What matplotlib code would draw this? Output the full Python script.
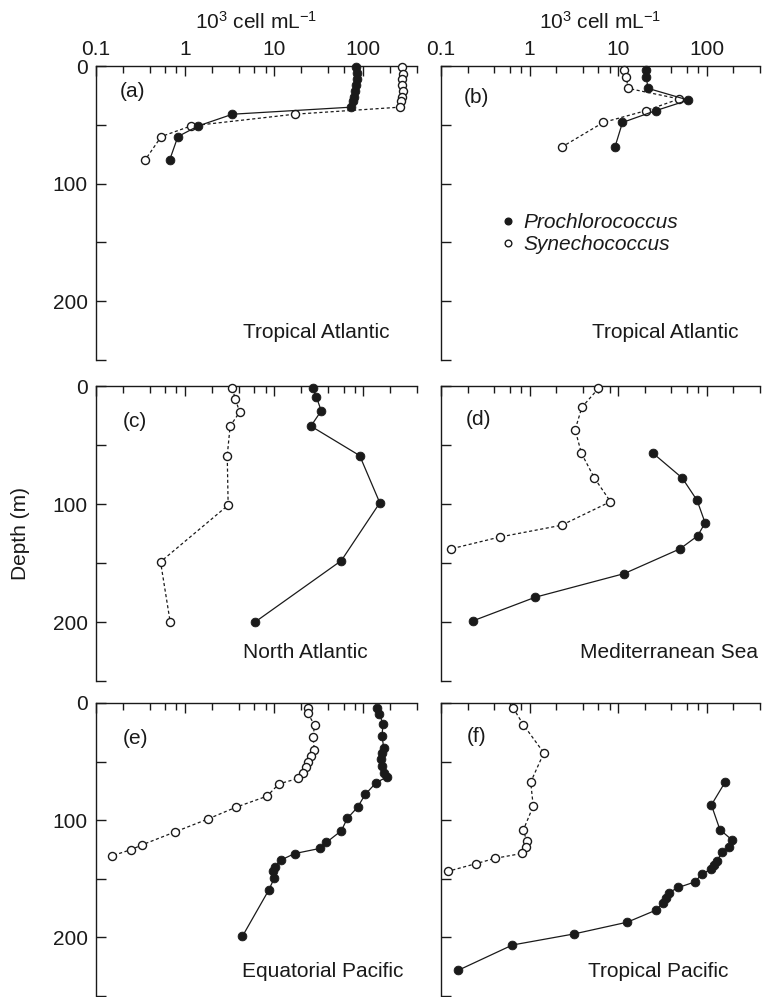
import matplotlib
matplotlib.use("Agg")
import matplotlib.pyplot as plt
from matplotlib.lines import Line2D
from matplotlib.ticker import FixedLocator, NullFormatter

plt.rcParams['font.family'] = ['Liberation Sans', 'DejaVu Sans']
plt.rcParams['mathtext.fontset'] = 'custom'
plt.rcParams['mathtext.rm'] = 'Liberation Sans'
plt.rcParams['mathtext.it'] = 'Liberation Sans:italic'

# panel (a) Tropical Atlantic
pro_a_depth = [1, 6, 11, 16, 21, 26, 30, 35, 41, 51, 60, 80]
pro_a = [82, 84, 84, 83, 81, 79, 77, 73, 3.4, 1.4, 0.83, 0.67]
syn_a_depth = [1, 7, 11, 16, 21, 26, 30, 35, 41, 51, 60, 80]
syn_a = [272, 276, 270, 275, 278, 272, 266, 258, 16.9, 1.16, 0.54, 0.355]

# panel (b) Tropical Atlantic
pro_b_depth = [3, 9, 19, 29, 38, 48, 69]
pro_b = [20.8, 20.8, 21.7, 62, 26.5, 11.2, 9.2]
syn_b_depth = [3, 9, 19, 28, 38, 48, 69]
syn_b = [11.7, 12.4, 12.9, 49, 20.5, 6.8, 2.3]

# panel (c) North Atlantic
pro_c_depth = [2, 9, 21, 34, 59, 99, 148, 200]
pro_c = [27, 29.6, 33.7, 25.8, 91, 153, 56.6, 6.1]
syn_c_depth = [2, 11, 22, 34, 59, 101, 149, 200]
syn_c = [3.4, 3.65, 4.1, 3.2, 2.97, 3.04, 0.53, 0.68]

# panel (d) Mediterranean Sea
pro_d_depth = [57, 78, 97, 116, 127, 138, 159, 179, 199]
pro_d = [24.8, 53, 78, 96, 79, 50, 11.7, 1.16, 0.23]
syn_d_depth = [2, 18, 37, 57, 78, 98, 118, 128, 138]
syn_d = [6.0, 3.9, 3.27, 3.85, 5.4, 8.2, 2.3, 0.46, 0.13]

# panel (e) Equatorial Pacific
pro_e_depth = [4, 9, 18, 28, 38, 43, 48, 54, 60, 63, 68, 78, 89, 98.5, 109,
               119, 124, 128.5, 134, 140, 143, 149.5, 159.5, 199]
pro_e = [142, 151, 166, 162, 169, 162, 159, 162, 169, 185, 139, 105, 86, 66,
         56.6, 38.4, 32.9, 16.9, 11.9, 10.1, 9.7, 10, 8.7, 4.4]
syn_e_depth = [4, 8.5, 19, 29, 40, 45, 50, 54.5, 59.6, 64.4, 69, 79.5, 89, 99,
               110, 121, 125, 130.5]
syn_e = [23.7, 23.7, 28.4, 27.2, 28.2, 25.8, 24.1, 22.7, 21.2, 18.5, 11.3,
         8.3, 3.7, 1.8, 0.77, 0.33, 0.25, 0.15]

# panel (f) Tropical Pacific
pro_f_depth = [67, 87, 108, 117, 123, 127, 135, 138.5, 142, 146, 152.6, 157.4,
               161.7, 166.8, 171, 176.6, 187, 197, 206.5, 228]
pro_f = [163, 113, 141, 194, 178, 150, 130, 120, 111, 88, 74, 48, 37.5, 34.4,
         32, 27, 12.7, 3.2, 0.64, 0.157]
syn_f_depth = [4, 18.5, 42.6, 67.5, 88, 108.4, 117.8, 122.6, 128.3, 132.5,
               137, 143.6]
syn_f = [0.65, 0.85, 1.45, 1.03, 1.1, 0.85, 0.93, 0.9, 0.83, 0.41, 0.25, 0.12]

panel_tags = ['(a)', '(b)', '(c)', '(d)', '(e)', '(f)']
regions = ['Tropical Atlantic', 'Tropical Atlantic', 'North Atlantic',
           'Mediterranean Sea', 'Equatorial Pacific', 'Tropical Pacific']
pro = [(pro_a, pro_a_depth), (pro_b, pro_b_depth), (pro_c, pro_c_depth),
       (pro_d, pro_d_depth), (pro_e, pro_e_depth), (pro_f, pro_f_depth)]
syn = [(syn_a, syn_a_depth), (syn_b, syn_b_depth), (syn_c, syn_c_depth),
       (syn_d, syn_d_depth), (syn_e, syn_e_depth), (syn_f, syn_f_depth)]

x_major = [0.1, 1, 10, 100]
x_major_labels = ['0.1', '1', '10', '100']
x_minor = [0.2, 0.4, 0.6, 0.8, 2, 4, 6, 8, 20, 40, 60, 80, 200, 400]
y_major = [0, 100, 200]
y_minor = [50, 150, 250]

ink = '#1a1a1a'
W, H = 763, 997
fig = plt.figure(figsize=(W / 100, H / 100), dpi=100)

# axes boxes in pixels (left, top, right, bottom)
cols = [(96, 417), (441, 760)]
rows = [(66, 360), (386, 681), (703, 996)]
tag_pos = [(0.075, 0.913), (0.07, 0.893), (0.084, 0.881),
           (0.078, 0.888), (0.084, 0.878), (0.082, 0.884)]
region_pos = [(0.458, 0.092), (0.473, 0.092), (0.458, 0.095),
              (0.436, 0.095), (0.455, 0.085), (0.461, 0.085)]

axes = []
for i in range(6):
    r, c = divmod(i, 2)
    x0, x1 = cols[c]
    y0, y1 = rows[r]
    ax = fig.add_axes([x0 / W, 1 - y1 / H, (x1 - x0) / W, (y1 - y0) / H])
    axes.append(ax)
    ax.set_xscale('log')
    ax.set_xlim(0.1, 400)
    ax.set_ylim(250, 0)
    for s in ['right', 'bottom']:
        ax.spines[s].set_visible(False)
    for s in ['left', 'top']:
        ax.spines[s].set_linewidth(1.0)
        ax.spines[s].set_color(ink)
    ax.xaxis.set_ticks_position('top')
    ax.xaxis.set_major_locator(FixedLocator(x_major))
    ax.xaxis.set_minor_locator(FixedLocator(x_minor))
    ax.xaxis.set_minor_formatter(NullFormatter())
    ax.yaxis.set_major_locator(FixedLocator(y_major))
    ax.yaxis.set_minor_locator(FixedLocator(y_minor))
    ax.yaxis.set_minor_formatter(NullFormatter())
    ax.tick_params(axis='x', which='major', direction='in', length=7.5,
                   width=1.0, color=ink, pad=5, labelsize=15, labelcolor=ink)
    ax.tick_params(axis='x', which='minor', direction='in', length=5,
                   width=1.0, color=ink)
    ax.tick_params(axis='y', which='both', direction='in', length=7.5,
                   width=1.0, color=ink, pad=6, labelsize=15, labelcolor=ink)
    if r == 0:
        ax.set_xticklabels(x_major_labels)
        ax.xaxis.set_label_position('top')
        ax.set_xlabel(r'10$^3$ cell mL$^{-1}$', fontsize=15, color=ink,
                      labelpad=8)
    else:
        ax.tick_params(axis='x', labeltop=False)
    if c == 0:
        ax.set_yticklabels(['0', '100', '200'])
    else:
        ax.tick_params(axis='y', labelleft=False)

    px, pd = pro[i]
    sx, sd = syn[i]
    ax.plot(sx, sd, color=ink, lw=0.9, ls=(0, (2.5, 2)), marker='o',
            ms=5.8, mfc='white', mec=ink, mew=1.0, clip_on=False, zorder=3)
    ax.plot(px, pd, color=ink, lw=0.9, ls='-', marker='o',
            ms=6.3, mfc=ink, mec=ink, mew=0.6, clip_on=False, zorder=4)

    ax.text(tag_pos[i][0], tag_pos[i][1], panel_tags[i], transform=ax.transAxes,
            fontsize=15, color=ink, ha='left', va='center')
    ax.text(region_pos[i][0], region_pos[i][1], regions[i],
            transform=ax.transAxes, fontsize=15, color=ink,
            ha='left', va='center')

handles = [Line2D([], [], ls='none', marker='o', ms=4.8, mfc=ink, mec=ink),
           Line2D([], [], ls='none', marker='o', ms=4.8, mfc='white', mec=ink,
                  mew=1.0)]
leg = axes[1].legend(handles, ['Prochlorococcus', 'Synechococcus'],
                     loc='upper left', bbox_to_anchor=(0.185, 0.5),
                     frameon=False, borderpad=0, borderaxespad=0,
                     handlelength=0.8, handletextpad=0.3, labelspacing=0.15,
                     prop={'size': 15, 'style': 'italic'})
for t in leg.get_texts():
    t.set_color(ink)

fig.text(21 / W, 1 - 533 / H, 'Depth (m)', rotation=90, fontsize=15,
         color=ink, ha='center', va='center')

fig.savefig('out.png', dpi=100)
